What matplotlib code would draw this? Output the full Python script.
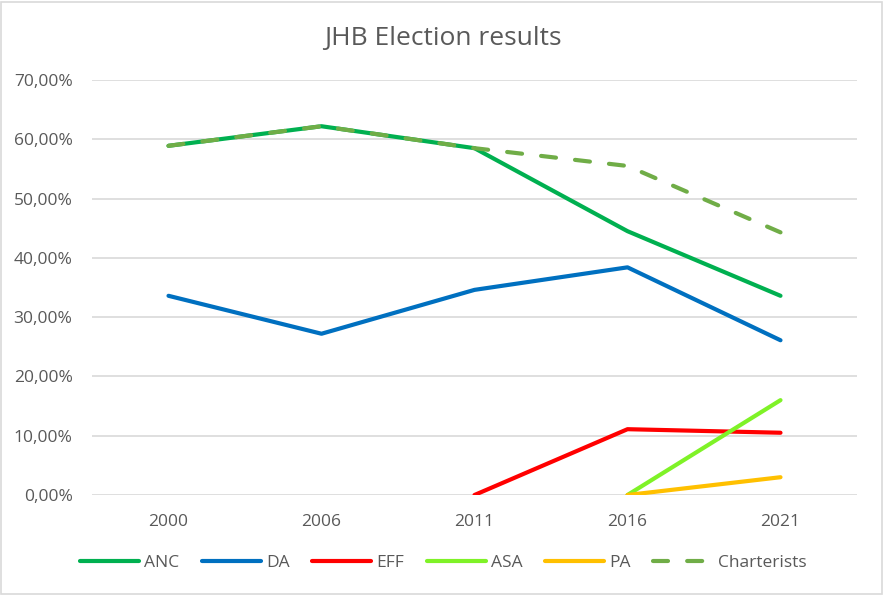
import matplotlib.pyplot as plt
from matplotlib.ticker import FuncFormatter, MultipleLocator
from matplotlib.patches import Rectangle
import numpy as np

plt.rcParams['font.family'] = ['Open Sans', 'DejaVu Sans']

years = ['2000', '2006', '2011', '2016', '2021']
anc = [0.589, 0.622, 0.585, 0.445, 0.336]
da = [0.336, 0.272, 0.346, 0.384, 0.261]
eff = [None, None, 0.0, 0.111, 0.105]
asa = [None, None, None, 0.0, 0.160]
pa = [None, None, None, 0.0, 0.030]
charterists = [0.589, 0.622, 0.585, 0.555, 0.443]

series = [
    ('ANC', anc, '#00B050', '-'),
    ('DA', da, '#0070C0', '-'),
    ('EFF', eff, '#FF0000', '-'),
    ('ASA', asa, '#7FF227', '-'),
    ('PA', pa, '#FFC000', '-'),
    ('Charterists', charterists, '#70AD47', '--'),
]

fig = plt.figure(figsize=(8.86, 5.98), dpi=100)
ax = fig.add_axes([92 / 886, 1 - 495 / 598, 765 / 886, 415 / 598])

x = np.arange(len(years))
for name, vals, color, ls in series:
    v = np.array([np.nan if a is None else a for a in vals], dtype=float)
    line, = ax.plot(x, v, color=color, lw=3, ls=ls, label=name,
                    solid_capstyle='round', dash_capstyle='round')
    if ls == '--':
        line.set_dashes((3.6, 4.6))

ax.set_xlim(-0.5, len(years) - 0.5)
ax.set_ylim(0, 0.70)
ax.set_xticks(x)
ax.set_xticklabels(years)
ax.yaxis.set_major_locator(MultipleLocator(0.10))
ax.yaxis.set_major_formatter(FuncFormatter(lambda v, p: f"{v * 100:.2f}%".replace('.', ',')))
ax.grid(axis='y', color='#D9D9D9', lw=1.2)
ax.set_axisbelow(True)
for s in ax.spines.values():
    s.set_visible(False)
ax.tick_params(length=0, labelsize=12.5, colors='#595959', pad=14)

fig.text(0.5, 1 - 38 / 598, 'JHB Election results', ha='center', va='center',
         fontsize=19, color='#595959')

leg = fig.legend(loc='center', bbox_to_anchor=(0.5, 1 - 563 / 598), ncol=6,
                 frameon=False, fontsize=12.5, handlelength=3.4, columnspacing=1.3,
                 handletextpad=0.3)
for t in leg.get_texts():
    t.set_color('#595959')
for h in leg.get_lines():
    h.set_solid_capstyle('round')
    h.set_dash_capstyle('round')

fig.patches.append(Rectangle((1 / 886, 1 - 594 / 598), 881 / 886, 592 / 598,
                             transform=fig.transFigure, fill=False,
                             edgecolor='#D9D9D9', lw=1.2))

fig.savefig('out.png', dpi=100, facecolor='white')
